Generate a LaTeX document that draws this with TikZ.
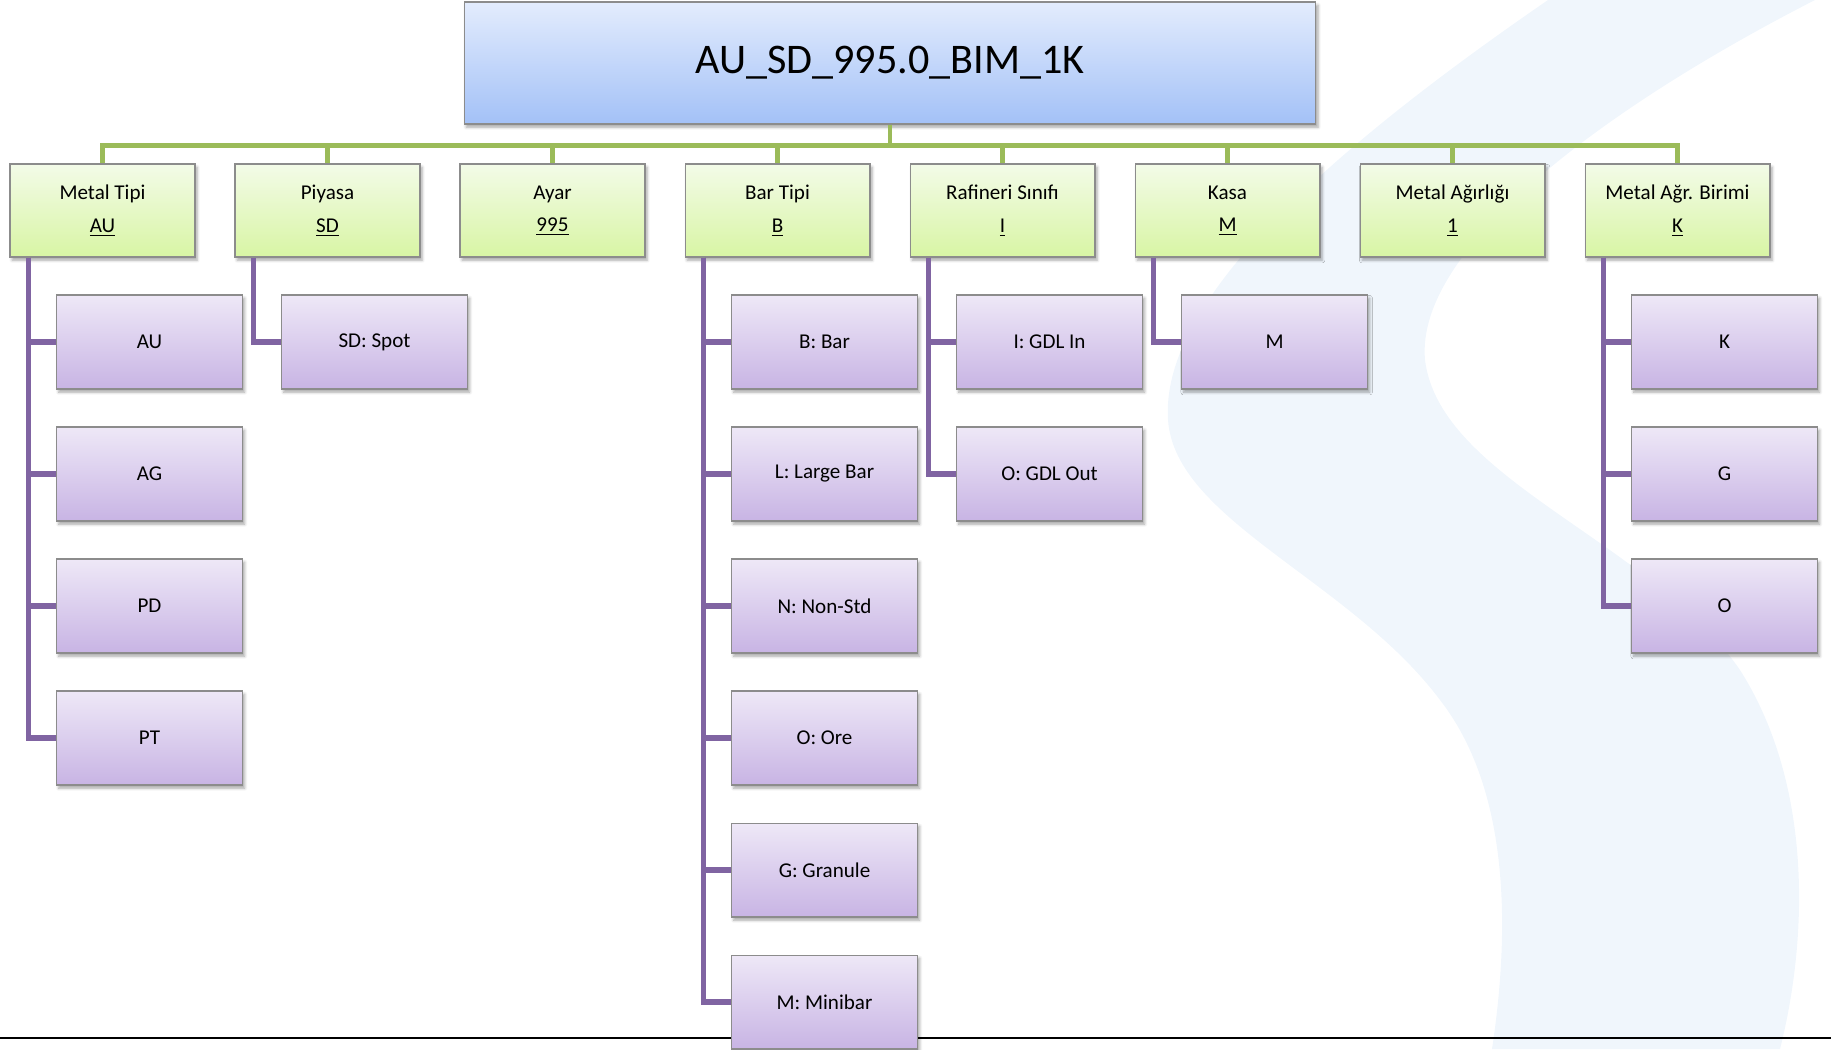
\documentclass[tikz,border=0pt]{standalone}
\usepackage{fontspec}
\setmainfont{Carlito}
\usetikzlibrary{shadows.blur}

\definecolor{busgreen}{HTML}{9BBB59}
\definecolor{branchpurple}{HTML}{8064A2}
\definecolor{swoosh}{HTML}{F0F6FC}
\definecolor{boxedge}{HTML}{8C8C8C}
\definecolor{rootTop}{HTML}{E3ECFD}
\definecolor{rootBot}{HTML}{A3C1F7}
\definecolor{segTop}{HTML}{F3FBE8}
\definecolor{segBot}{HTML}{D8F5A4}
\definecolor{optTop}{HTML}{EEE8F7}
\definecolor{optBot}{HTML}{C8B4E4}

\tikzset{
  boxbase/.style={draw=boxedge, line width=0.6pt, inner sep=0pt,
    blur shadow={shadow xshift=1.2pt, shadow yshift=-1.8pt, shadow blur radius=1.6pt, shadow opacity=35}},
  rootbox/.style={boxbase, top color=rootTop, bottom color=rootBot,
    minimum width=17.04cm, minimum height=2.44cm, font=\fontsize{24}{28}\selectfont},
  segbox/.style={boxbase, top color=segTop, bottom color=segBot, align=center,
    minimum width=3.7cm, minimum height=1.86cm, font=\fontsize{12}{18.7}\selectfont},
  optbox/.style={boxbase, top color=optTop, bottom color=optBot,
    minimum width=3.72cm, minimum height=1.88cm, font=\fontsize{12}{14}\selectfont},
  busline/.style={busgreen, line width=2.8pt},
  branchline/.style={branchpurple, line width=3pt}
}

\begin{document}
\begin{tikzpicture}[x=0.02cm, y=-0.02cm]
    \useasboundingbox (0,0) rectangle (1831,1049);

    % background swoosh
    \fill[swoosh] (1548,0) .. controls (1330,150) and (1160,300) .. (1168,420)
        .. controls (1175,520) and (1350,580) .. (1440,700)
        .. controls (1510,790) and (1510,930) .. (1492,1049)
        -- (1780,1049)
        .. controls (1810,930) and (1810,780) .. (1740,670)
        .. controls (1650,540) and (1440,480) .. (1425,360)
        .. controls (1415,250) and (1600,110) .. (1815,0) -- cycle;

    % footer rule
    \draw[line width=1.2pt] (0,1038) -- (1831,1038);

    % root code
    \node[rootbox] (code) at (890,63) {AU\_SD\_995.0\_BIM\_1K};

    % code segments
    \node[segbox] (mt) at (102.5,210.5) {Metal Tipi\\\underline{AU}};
    \node[segbox] (py) at (327.5,210.5) {Piyasa\\\underline{SD}};
    \node[segbox] (ay) at (552.5,210.5) {Ayar\\\underline{995}};
    \node[segbox] (bt) at (777.5,210.5) {Bar Tipi\\\underline{B}};
    \node[segbox] (rs) at (1002.5,210.5) {Rafineri Sınıfı\\\underline{I}};
    \node[segbox] (ks) at (1227.5,210.5) {Kasa\\\underline{M}};
    \node[segbox] (ma) at (1452.5,210.5) {Metal Ağırlığı\\\underline{1}};
    \node[segbox] (mb) at (1677.5,210.5) {Metal Ağr. Birimi\\\underline{K}};

    % options: metal type
    \node[optbox] (mt1) at (149.5,342) {AU};
    \node[optbox] (mt2) at (149.5,474) {AG};
    \node[optbox] (mt3) at (149.5,606) {PD};
    \node[optbox] (mt4) at (149.5,738) {PT};

    % options: market
    \node[optbox] (py1) at (374.5,342) {SD: Spot};

    % options: bar type
    \node[optbox] (bt1) at (824.5,342) {B: Bar};
    \node[optbox] (bt2) at (824.5,474) {L: Large Bar};
    \node[optbox] (bt3) at (824.5,606) {N: Non-Std};
    \node[optbox] (bt4) at (824.5,738) {O: Ore};
    \node[optbox] (bt5) at (824.5,870) {G: Granule};
    \node[optbox] (bt6) at (824.5,1002) {M: Minibar};

    % options: refinery
    \node[optbox] (rs1) at (1049.5,342) {I: GDL In};
    \node[optbox] (rs2) at (1049.5,474) {O: GDL Out};

    % options: case
    \node[optbox] (ks1) at (1274.5,342) {M};

    % options: weight unit
    \node[optbox] (mb1) at (1724.5,342) {K};
    \node[optbox] (mb2) at (1724.5,474) {G};
    \node[optbox] (mb3) at (1724.5,606) {O};

    % green bus
    \draw[busline] (code.south) -- ++(0,21) -| (mt.north);
    \draw[busline] (code.south) -- ++(0,21) -| (py.north);
    \draw[busline] (code.south) -- ++(0,21) -| (ay.north);
    \draw[busline] (code.south) -- ++(0,21) -| (bt.north);
    \draw[busline] (code.south) -- ++(0,21) -| (rs.north);
    \draw[busline] (code.south) -- ++(0,21) -| (ks.north);
    \draw[busline] (code.south) -- ++(0,21) -| (ma.north);
    \draw[busline] (code.south) -- ++(0,21) -| (mb.north);

    % purple branches
    \draw[branchline] ([xshift=0.38cm]mt.south west) |- (mt1.west);
    \draw[branchline] ([xshift=0.38cm]mt.south west) |- (mt2.west);
    \draw[branchline] ([xshift=0.38cm]mt.south west) |- (mt3.west);
    \draw[branchline] ([xshift=0.38cm]mt.south west) |- (mt4.west);
    \draw[branchline] ([xshift=0.38cm]py.south west) |- (py1.west);
    \draw[branchline] ([xshift=0.38cm]bt.south west) |- (bt1.west);
    \draw[branchline] ([xshift=0.38cm]bt.south west) |- (bt2.west);
    \draw[branchline] ([xshift=0.38cm]bt.south west) |- (bt3.west);
    \draw[branchline] ([xshift=0.38cm]bt.south west) |- (bt4.west);
    \draw[branchline] ([xshift=0.38cm]bt.south west) |- (bt5.west);
    \draw[branchline] ([xshift=0.38cm]bt.south west) |- (bt6.west);
    \draw[branchline] ([xshift=0.38cm]rs.south west) |- (rs1.west);
    \draw[branchline] ([xshift=0.38cm]rs.south west) |- (rs2.west);
    \draw[branchline] ([xshift=0.38cm]ks.south west) |- (ks1.west);
    \draw[branchline] ([xshift=0.38cm]mb.south west) |- (mb1.west);
    \draw[branchline] ([xshift=0.38cm]mb.south west) |- (mb2.west);
    \draw[branchline] ([xshift=0.38cm]mb.south west) |- (mb3.west);
\end{tikzpicture}
\end{document}
